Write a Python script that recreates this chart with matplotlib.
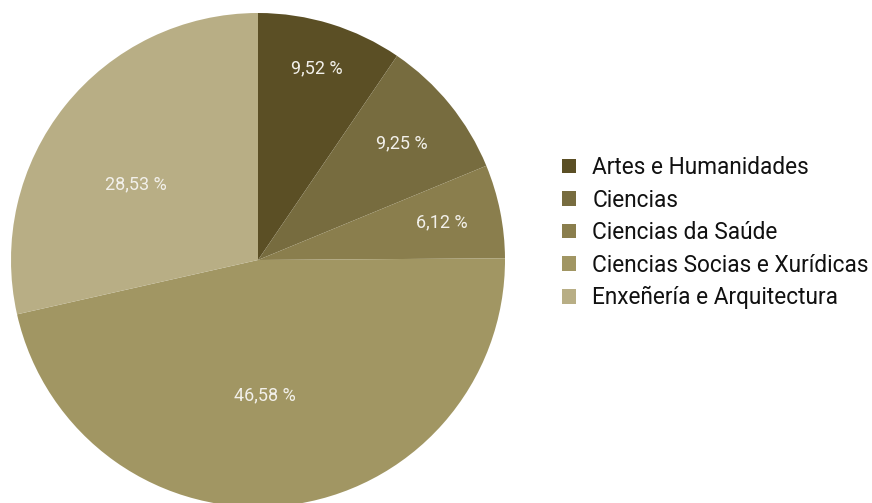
import numpy as np
import matplotlib
matplotlib.use("Agg")
import matplotlib.pyplot as plt
from matplotlib.patches import Patch

# --- DATA ---
categories = ["Artes e Humanidades", "Ciencias", "Ciencias da Saúde",
              "Ciencias Socias e Xurídicas", "Enxeñería e Arquitectura"]
shares = [9.52, 9.25, 6.12, 46.58, 28.53]
colors = ["#5B4F25", "#776C3F", "#8A7E4D", "#A19663", "#B8AE85"]
label_radius = [0.81, 0.75, 0.76, 0.55, 0.58]
label_turn = [0, 0, 0, -3.5, 7]   # small angle nudges (deg)

plt.rcParams['font.family'] = ['Roboto', 'DejaVu Sans']

W, H = 872, 503
fig = plt.figure(figsize=(W / 100, H / 100), dpi=100)

# pie centre (258, 260) px from top, radius 247 px
cx, cy, r = 258, H - 260, 247
ax = fig.add_axes([(cx - r) / W, (cy - r) / H, 2 * r / W, 2 * r / H])
wedges, _ = ax.pie(shares, colors=colors, startangle=90, counterclock=False,
                   radius=1, wedgeprops=dict(linewidth=0))
ax.set_xlim(-1, 1)
ax.set_ylim(-1, 1)
ax.set_aspect('equal')
ax.axis('off')

for w, v, d, t in zip(wedges, shares, label_radius, label_turn):
    ang = np.deg2rad((w.theta1 + w.theta2) / 2 + t)
    ax.text(d * np.cos(ang), d * np.sin(ang), f"{v:.2f} %".replace('.', ','),
            ha='center', va='center', color='#F2F0EA', fontsize=13)

handles = [Patch(facecolor=c, edgecolor='none') for c in colors]
fig.legend(handles, categories, loc='upper left', bbox_to_anchor=(562 / W, 1 - 156 / H),
           frameon=False, fontsize=16.3, handlelength=0.62, handleheight=0.62,
           handletextpad=0.72, labelspacing=0.42, borderpad=0, borderaxespad=0,
           labelcolor='#111111')

fig.savefig("out.png", dpi=100)
